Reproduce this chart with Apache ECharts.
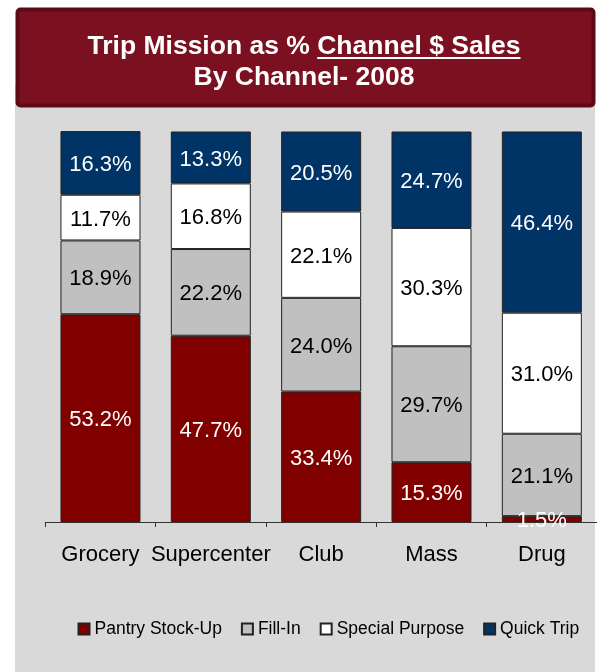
<!DOCTYPE html>
<html>
<head>
<meta charset="utf-8">
<script src="https://cdn.jsdelivr.net/npm/echarts@6/dist/echarts.min.js"></script>
<style>
  html, body { margin: 0; padding: 0; background: #fff; }
  #chart { width: 597px; height: 672px; }
</style>
</head>
<body>
<div id="chart"></div>
<script>
// Channels along the x axis
const channels = ['Grocery', 'Supercenter', 'Club', 'Mass', 'Drug'];

// Share of channel dollar sales by trip mission (%), stacked bottom to top
const pantryStockUp  = [53.2, 47.7, 33.4, 15.3, 1.5];
const fillIn         = [18.9, 22.2, 24.0, 29.7, 21.1];
const specialPurpose = [11.7, 16.8, 22.1, 30.3, 31.0];
const quickTrip      = [16.3, 13.3, 20.5, 24.7, 46.4];

const seriesNames = ['Pantry Stock-Up', 'Fill-In', 'Special Purpose', 'Quick Trip'];
const seriesData  = [pantryStockUp, fillIn, specialPurpose, quickTrip];
const seriesColors = ['#800000', '#C0C0C0', '#FFFFFF', '#003366'];
const labelColors  = ['#FFFFFF', '#000000', '#000000', '#FFFFFF'];

const titleLine1 = 'Trip Mission as % Channel $ Sales';
const titleUnderlined = 'Channel $ Sales';
const titleLine2 = 'By Channel- 2008';

const FONT = '"Liberation Sans", Arial, Helvetica, sans-serif';
const titleFont = 'bold 26.5px ' + FONT;

// measure the title so the underline sits under "Channel $ Sales"
const ctx = document.createElement('canvas').getContext('2d');
ctx.font = titleFont;
const titleCx = 304;
const fullW = ctx.measureText(titleLine1).width;
const tailW = ctx.measureText(titleUnderlined).width;
const ulRight = titleCx + fullW / 2;
const ulLeft = ulRight - tailW;

const chart = echarts.init(document.getElementById('chart'), null, { renderer: 'canvas' });

chart.setOption({
  backgroundColor: '#FFFFFF',
  animation: false,
  graphic: [
    { type: 'rect', z: -10, shape: { x: 15, y: 85, width: 580, height: 600 },
      style: { fill: '#D9D9D9' } },
    { type: 'rect', z: 10, shape: { x: 17.5, y: 9.5, width: 576, height: 96, r: 3 },
      style: { fill: '#7B1120', stroke: '#5C0A15', lineWidth: 4 } },
    { type: 'text', z: 11, style: { text: titleLine1, x: titleCx, y: 46.5, font: titleFont,
      fill: '#FFFFFF', align: 'center', verticalAlign: 'middle' } },
    { type: 'text', z: 11, style: { text: titleLine2, x: titleCx, y: 78, font: titleFont,
      fill: '#FFFFFF', align: 'center', verticalAlign: 'middle' } },
    { type: 'line', z: 11, shape: { x1: ulLeft, y1: 58, x2: ulRight, y2: 58 },
      style: { stroke: '#FFFFFF', lineWidth: 2 } }
  ],
  grid: { left: 45.3, right: -2, top: 131.5, bottom: 150, containLabel: false },
  legend: {
    data: seriesNames,
    left: 77.5,
    top: 620,
    padding: 0,
    icon: 'rect',
    itemWidth: 11,
    itemHeight: 11,
    itemGap: 19,
    textStyle: { fontFamily: FONT, fontSize: 17.5, color: '#000000' }
  },
  xAxis: {
    type: 'category',
    data: channels,
    axisLine: { lineStyle: { color: '#333333', width: 1 } },
    axisTick: { show: true, length: 5, lineStyle: { color: '#333333' } },
    axisLabel: { fontFamily: FONT, fontSize: 22, color: '#000000', margin: 22, interval: 0 }
  },
  yAxis: {
    type: 'value',
    min: 0,
    max: 100,
    show: false,
    splitLine: { show: false }
  },
  series: seriesNames.map((name, i) => ({
    name: name,
    type: 'bar',
    stack: 'mission',
    barWidth: 80,
    data: seriesData[i],
    itemStyle: { color: seriesColors[i], borderColor: '#222222', borderWidth: 1 },
    label: {
      show: true,
      position: 'inside',
      offset: [0, 2],
      fontFamily: FONT,
      fontSize: 22,
      color: labelColors[i],
      formatter: p => p.value.toFixed(1) + '%'
    }
  }))
});
</script>
</body>
</html>
